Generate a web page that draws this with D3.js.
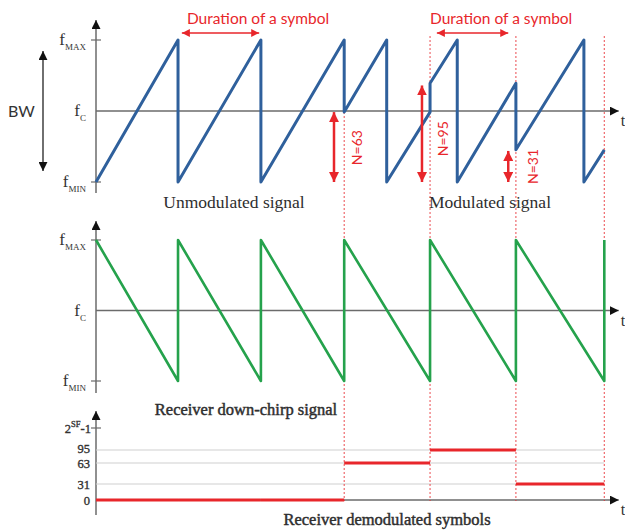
<!DOCTYPE html>
<html>
<head>
<meta charset="utf-8">
<script src="https://cdn.jsdelivr.net/npm/d3@7"></script>
<style>
  body { margin: 0; background: #fff; }
  .serif { font-family: "Liberation Serif", serif; }
  .sans { font-family: Lato, "Open Sans", sans-serif; }
</style>
</head>
<body>
<div id="chart"></div>
<script>
// symbol boundaries, in symbol durations, and the value sent in each symbol
var symbolBounds = [0, 0.965, 1.94, 2.92, 3.93, 4.94, 5.98];
var symbolValues = [0, 0, 0, 63, 95, 31];

// transmitted up-chirps: [time, frequency] with 0 = fMIN and 128 = fMAX
var upChirp = [
  [0, 0], [0.965, 128], [0.965, 0], [1.94, 128], [1.94, 0], [2.92, 128],
  [2.92, 63], [3.42, 128], [3.42, 0], [3.93, 63], [3.93, 89], [4.25, 128],
  [4.25, 0], [4.94, 89], [4.94, 29], [5.74, 128], [5.74, 0], [5.98, 29]
];

// receiver down-chirps
var downChirp = [
  [0, 128], [0.965, 0], [0.965, 128], [1.94, 0], [1.94, 128], [2.92, 0],
  [2.92, 128], [3.93, 0], [3.93, 128], [4.94, 0], [4.94, 128], [5.98, 0], [5.98, 128]
];

var freqTicks = [0, 64, 128];
var freqLabels = ["MIN", "C", "MAX"];
var symbolTicks = [0, 31, 63, 95, 127];
var symbolLabels = ["0", "31", "63", "95", "2SF-1"];

// offset arrows in the modulated part (time, from, to)
var offsetArrows = [
  {t: 2.8, from: 0, to: 63, label: "N=63", labelT: 3.07, labelF: 31},
  {t: 3.835, from: 0, to: 87, label: "N=95", labelT: 4.08, labelF: 39},
  {t: 4.85, from: 0, to: 28, label: "N=31", labelT: 5.13, labelF: 14}
];
var durations = [
  {t0: 1.01, t1: 1.92, textT: 1.07},
  {t0: 4.01, t1: 4.85, textT: 3.93}
];

var blue = "#2f609c", green = "#25a24c", red = "#e8262b", axisCol = "#6b6b6b";

var width = 625, height = 530;
var svg = d3.select("#chart").append("svg")
    .attr("width", width)
    .attr("height", height);

var x = d3.scaleLinear().domain([0, 6.2]).range([96, 623]);
var yTop = d3.scaleLinear().domain([0, 128]).range([182, 40]);
var yMid = d3.scaleLinear().domain([0, 128]).range([381, 240]);
// the symbol axis in the picture is not evenly spaced
var yBot = d3.scaleLinear().domain(symbolTicks).range([500, 484, 463, 450, 428]);

// arrow heads
var defs = svg.append("defs");
function addMarker(id, color, size) {
  defs.append("marker")
      .attr("id", id)
      .attr("viewBox", "0 0 10 10")
      .attr("refX", 10).attr("refY", 5)
      .attr("markerUnits", "userSpaceOnUse")
      .attr("markerWidth", size).attr("markerHeight", size)
      .attr("orient", "auto-start-reverse")
    .append("path")
      .attr("d", "M0,0 L10,5 L0,10 z")
      .attr("fill", color);
}
addMarker("arrowBlack", "#111", 9);
addMarker("arrowRed", red, 10);
addMarker("arrowRedSmall", red, 8);

// draws a pair of arrowed axes for one panel
function drawAxes(y, yLow, yHigh, baseValue) {
  svg.append("line")
      .attr("x1", x(0)).attr("x2", x(0))
      .attr("y1", yLow).attr("y2", yHigh)
      .attr("stroke", axisCol).attr("stroke-width", 1.5)
      .attr("marker-end", "url(#arrowBlack)");
  svg.append("line")
      .attr("x1", x(0)).attr("x2", x(6.15))
      .attr("y1", y(baseValue)).attr("y2", y(baseValue))
      .attr("stroke", axisCol).attr("stroke-width", 1.5)
      .attr("marker-end", "url(#arrowBlack)");
  svg.append("text")
      .attr("class", "serif")
      .attr("x", x(6.15) + 2).attr("y", y(baseValue) + 15)
      .attr("font-size", 16).attr("fill", "#333")
      .text("t");
}

function drawFreqLabels(y) {
  // little ticks at fMIN and fMAX
  svg.selectAll(null)
    .data([0, 128])
    .enter().append("line")
      .attr("x1", x(0) - 5).attr("x2", x(0) + 5)
      .attr("y1", d => y(d)).attr("y2", d => y(d))
      .attr("stroke", axisCol).attr("stroke-width", 1.2);
  var lab = svg.selectAll(null)
    .data(freqTicks)
    .enter().append("text")
      .attr("class", "serif")
      .attr("x", 86)
      .attr("y", d => y(d) + 5)
      .attr("text-anchor", "end")
      .attr("fill", "#333");
  lab.append("tspan").attr("font-size", 17).text("f");
  lab.append("tspan").attr("font-size", 9).attr("dy", 5).text((d, i) => freqLabels[i]);
}

var line = function(y) {
  return d3.line().x(d => x(d[0])).y(d => y(d[1]));
};

// ---- top panel: unmodulated + modulated up-chirps
drawAxes(yTop, 193, 20, 64);
drawFreqLabels(yTop);

// bandwidth arrow
svg.append("line")
    .attr("x1", 43).attr("x2", 43)
    .attr("y1", yTop(64)).attr("y2", yTop(118))
    .attr("stroke", "#222").attr("stroke-width", 1.3)
    .attr("marker-end", "url(#arrowBlack)");
svg.append("line")
    .attr("x1", 43).attr("x2", 43)
    .attr("y1", yTop(64)).attr("y2", yTop(10))
    .attr("stroke", "#222").attr("stroke-width", 1.3)
    .attr("marker-end", "url(#arrowBlack)");
svg.append("text")
    .attr("class", "sans")
    .attr("x", 8).attr("y", yTop(64) + 6)
    .attr("font-size", 16).attr("fill", "#333")
    .text("BW");

// ---- middle panel: receiver down-chirps
drawAxes(yMid, 393, 221, 64);
drawFreqLabels(yMid);

// ---- bottom panel: demodulated symbols
drawAxes(yBot, 515, 411, 0);

svg.selectAll(null)
  .data([31, 63, 95])
  .enter().append("line")
    .attr("x1", x(0)).attr("x2", x(symbolBounds[6]))
    .attr("y1", d => yBot(d)).attr("y2", d => yBot(d))
    .attr("stroke", "#cfcfcf").attr("stroke-width", 1);

svg.append("line")
    .attr("x1", x(0) - 5).attr("x2", x(0) + 5)
    .attr("y1", yBot(127)).attr("y2", yBot(127))
    .attr("stroke", axisCol).attr("stroke-width", 1.2);

// 95 and 63 sit very close: nudge them apart a little
var labelNudge = {95: 3.2, 63: 5.2};
var symLab = svg.selectAll(null)
  .data(symbolTicks)
  .enter().append("text")
    .attr("class", "serif")
    .attr("x", (d, i) => i == 4 ? 91 : 90)
    .attr("y", d => yBot(d) + (labelNudge[d] || 4.5))
    .attr("text-anchor", "end")
    .attr("font-size", 12.5)
    .attr("fill", "#333")
    .attr("stroke", "#333").attr("stroke-width", 0.35);
symLab.each(function(d, i) {
  var t = d3.select(this);
  if (i == 4) {
    t.append("tspan").text("2");
    t.append("tspan").attr("font-size", 8.5).attr("dy", -6).text("SF");
    t.append("tspan").attr("dy", 6).text("-1");
  } else {
    t.text(symbolLabels[i]);
  }
});

// red dotted symbol boundaries in the modulated part
svg.selectAll(null)
  .data(symbolBounds.slice(3))
  .enter().append("line")
    .attr("x1", d => x(d)).attr("x2", d => x(d))
    .attr("y1", (d, i) => i == 0 ? yTop(63) : 36)
    .attr("y2", 501)
    .attr("stroke", red).attr("stroke-width", 1.1)
    .attr("stroke-dasharray", "2,2")
    .attr("opacity", 0.75);

// signals
svg.append("path")
    .datum(upChirp)
    .attr("d", line(yTop))
    .attr("fill", "none")
    .attr("stroke", blue).attr("stroke-width", 3)
    .attr("stroke-linejoin", "round");

svg.append("path")
    .datum(downChirp)
    .attr("d", line(yMid))
    .attr("fill", "none")
    .attr("stroke", green).attr("stroke-width", 2.6)
    .attr("stroke-linejoin", "round");

svg.selectAll(null)
  .data(symbolValues)
  .enter().append("line")
    .attr("x1", (d, i) => x(symbolBounds[i]))
    .attr("x2", (d, i) => x(symbolBounds[i + 1]))
    .attr("y1", d => yBot(d)).attr("y2", d => yBot(d))
    .attr("stroke", red).attr("stroke-width", 3);

// offset arrows and labels
offsetArrows.forEach(function(a) {
  svg.append("line")
      .attr("x1", x(a.t)).attr("x2", x(a.t))
      .attr("y1", yTop(a.from)).attr("y2", yTop(a.to))
      .attr("stroke", red).attr("stroke-width", 2.5)
      .attr("marker-start", "url(#arrowRed)")
      .attr("marker-end", "url(#arrowRed)");
  svg.append("text")
      .attr("class", "sans")
      .attr("transform", "translate(" + x(a.labelT) + "," + yTop(a.labelF) + ") rotate(-90)")
      .attr("text-anchor", "middle")
      .attr("dominant-baseline", "central")
      .attr("font-size", 14)
      .attr("fill", red)
      .text(a.label);
});

// duration of a symbol
durations.forEach(function(d) {
  svg.append("line")
      .attr("x1", x(d.t0)).attr("x2", x(d.t1))
      .attr("y1", 33).attr("y2", 33)
      .attr("stroke", red).attr("stroke-width", 1.4)
      .attr("marker-start", "url(#arrowRedSmall)")
      .attr("marker-end", "url(#arrowRedSmall)");
  svg.append("text")
      .attr("class", "sans")
      .attr("x", x(d.textT)).attr("y", 24)
      .attr("font-size", 15.5)
      .attr("fill", red)
      .text("Duration of a symbol");
});

// captions
var captions = [
  {text: "Unmodulated signal", x: 234, y: 208, heavy: false},
  {text: "Modulated signal", x: 490, y: 208, heavy: false},
  {text: "Receiver down-chirp signal", x: 246, y: 415, heavy: true},
  {text: "Receiver demodulated symbols", x: 387, y: 525, heavy: true}
];
svg.selectAll(null)
  .data(captions)
  .enter().append("text")
    .attr("class", "serif")
    .attr("x", d => d.x).attr("y", d => d.y)
    .attr("text-anchor", "middle")
    .attr("font-size", d => d.heavy ? 16.5 : 17.5)
    .attr("fill", "#2e2e2e")
    .attr("stroke", d => d.heavy ? "#2e2e2e" : "none")
    .attr("stroke-width", 0.45)
    .text(d => d.text);
</script>
</body>
</html>
